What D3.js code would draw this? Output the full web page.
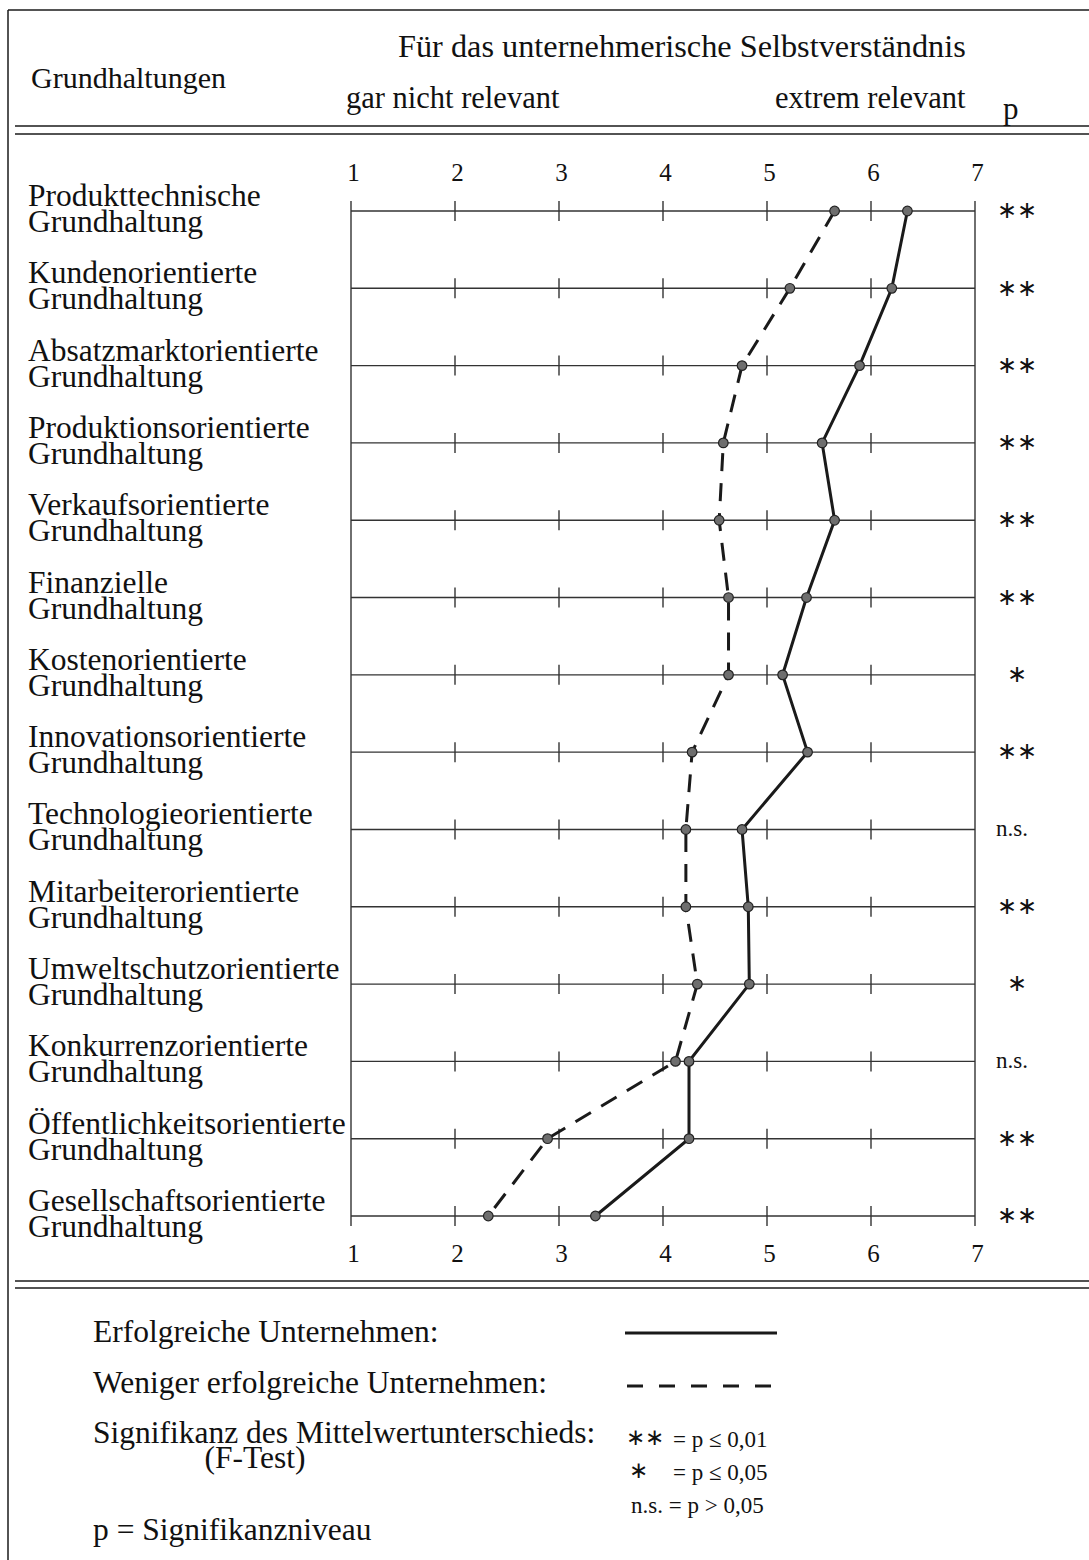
<!DOCTYPE html>
<html>
<head>
<meta charset="utf-8">
<script src="https://cdn.jsdelivr.net/npm/d3@7"></script>
<style>
  html, body { margin: 0; padding: 0; background: #fff; }
  svg { display: block; }
  text { font-family: "Liberation Serif", "Times New Roman", serif; fill: #111; }
</style>
</head>
<body>
<svg id="chart" width="1089" height="1560"></svg>
<script>
// ---- data ----
const categories = [
  "Produkttechnische|Grundhaltung",
  "Kundenorientierte|Grundhaltung",
  "Absatzmarktorientierte|Grundhaltung",
  "Produktionsorientierte|Grundhaltung",
  "Verkaufsorientierte|Grundhaltung",
  "Finanzielle|Grundhaltung",
  "Kostenorientierte|Grundhaltung",
  "Innovationsorientierte|Grundhaltung",
  "Technologieorientierte|Grundhaltung",
  "Mitarbeiterorientierte|Grundhaltung",
  "Umweltschutzorientierte|Grundhaltung",
  "Konkurrenzorientierte|Grundhaltung",
  "Öffentlichkeitsorientierte|Grundhaltung",
  "Gesellschaftsorientierte|Grundhaltung"
];
const erfolgreiche = [6.35, 6.20, 5.89, 5.53, 5.65, 5.38, 5.15, 5.39, 4.76, 4.82, 4.83, 4.25, 4.25, 3.35];
const wenigerErfolgreiche = [5.65, 5.22, 4.76, 4.58, 4.54, 4.63, 4.63, 4.28, 4.22, 4.22, 4.33, 4.12, 2.89, 2.32];
const signifikanz = ["**", "**", "**", "**", "**", "**", "*", "**", "n.s.", "**", "*", "n.s.", "**", "**"];
const tickValues = [1, 2, 3, 4, 5, 6, 7];
const tickLabels = ["1", "2", "3", "4", "5", "6", "7"];

const headerTitle = "Für das unternehmerische Selbstverständnis";
const headerLeft = "Grundhaltungen";
const scaleLow = "gar nicht relevant";
const scaleHigh = "extrem relevant";
const pHeader = "p";
const legendSolid = "Erfolgreiche Unternehmen:";
const legendDashed = "Weniger erfolgreiche Unternehmen:";
const legendSig = "Signifikanz des Mittelwertunterschieds:";
const legendSigSub = "(F-Test)";
const legendSigLevels = [
  { sym: "∗∗", txt: "= p ≤ 0,01" },
  { sym: "∗", txt: "= p ≤ 0,05" },
  { sym: "n.s.", txt: "= p > 0,05" }
];
const legendP = "p = Signifikanzniveau";

// ---- layout ----
const svg = d3.select("#chart");
const x = d3.scaleLinear().domain([1, 7]).range([351, 975]);
const y = d3.scalePoint().domain(categories).range([211, 1216]);
const ink = "#1a1a1a";

// frame
svg.append("line").attr("x1", 8).attr("x2", 1089).attr("y1", 10).attr("y2", 10)
  .attr("stroke", ink).attr("stroke-width", 1.5);
svg.append("line").attr("x1", 8).attr("x2", 8).attr("y1", 10).attr("y2", 1560)
  .attr("stroke", ink).attr("stroke-width", 1.5);
[126, 134, 1281, 1288].forEach(yy => {
  svg.append("line").attr("x1", 15).attr("x2", 1089).attr("y1", yy).attr("y2", yy)
    .attr("stroke", ink).attr("stroke-width", 1.5);
});

// headers
svg.append("text").attr("x", 398).attr("y", 57).attr("font-size", 32.3).text(headerTitle);
svg.append("text").attr("x", 31).attr("y", 88).attr("font-size", 30).text(headerLeft);
svg.append("text").attr("x", 346).attr("y", 108).attr("font-size", 30.5).text(scaleLow);
svg.append("text").attr("x", 775).attr("y", 108).attr("font-size", 30.5).text(scaleHigh);
svg.append("text").attr("x", 1003).attr("y", 119).attr("font-size", 31).text(pHeader);

// axis tick labels top and bottom
const axTop = d3.axisTop(x).tickValues(tickValues).tickFormat((d, i) => tickLabels[i])
  .tickSize(0).tickPadding(0);
const gTop = svg.append("g").attr("transform", "translate(2,181)").call(axTop);
const axBot = d3.axisBottom(x).tickValues(tickValues).tickFormat((d, i) => tickLabels[i])
  .tickSize(0).tickPadding(0);
const gBot = svg.append("g").attr("transform", "translate(2,1244)").call(axBot);
[gTop, gBot].forEach(g => {
  g.select(".domain").remove();
  g.selectAll("text").attr("font-size", 25).attr("font-family", "Liberation Serif, serif").attr("fill", ink);
});

// row lines with ticks
const rows = svg.append("g");
categories.forEach(c => {
  rows.append("line").attr("x1", x(1)).attr("x2", x(7)).attr("y1", y(c)).attr("y2", y(c))
    .attr("stroke", "#333").attr("stroke-width", 1.4);
  tickValues.slice(1, 6).forEach(t => {
    rows.append("line").attr("x1", x(t)).attr("x2", x(t)).attr("y1", y(c) - 10).attr("y2", y(c) + 10)
      .attr("stroke", "#333").attr("stroke-width", 1.4);
  });
});
// side verticals
[1, 7].forEach(t => {
  svg.append("line").attr("x1", x(t)).attr("x2", x(t))
    .attr("y1", y(categories[0]) - 10).attr("y2", y(categories[categories.length - 1]) + 10)
    .attr("stroke", "#333").attr("stroke-width", 1.4);
});

// category labels
categories.forEach(c => {
  const parts = c.split("|");
  svg.append("text").attr("x", 28).attr("y", y(c) - 5).attr("font-size", 31.5).text(parts[0]);
  svg.append("text").attr("x", 28).attr("y", y(c) + 21).attr("font-size", 31.5).text(parts[1]);
});

// lines
const line = d3.line().x(d => x(d.v)).y(d => y(d.c));
const dashedData = categories.map((c, i) => ({ c, v: wenigerErfolgreiche[i] }));
const solidData = categories.map((c, i) => ({ c, v: erfolgreiche[i] }));
svg.append("path").attr("d", line(dashedData)).attr("fill", "none").attr("stroke", ink)
  .attr("stroke-width", 3).attr("stroke-dasharray", "18,12");
svg.append("path").attr("d", line(solidData)).attr("fill", "none").attr("stroke", ink)
  .attr("stroke-width", 3);

// points
[dashedData, solidData].forEach(ds => {
  svg.append("g").selectAll("circle").data(ds).join("circle")
    .attr("cx", d => x(d.v)).attr("cy", d => y(d.c)).attr("r", 4.8)
    .attr("fill", "#6e6e6e").attr("stroke", "#222").attr("stroke-width", 1.2);
});

// significance column
categories.forEach((c, i) => {
  const s = signifikanz[i];
  if (s === "n.s.") {
    svg.append("text").attr("x", 1012).attr("y", y(c) + 7).attr("font-size", 23)
      .attr("text-anchor", "middle").text(s);
  } else {
    svg.append("text").attr("x", 1017).attr("y", y(c)).attr("dy", "0.3em")
      .attr("font-family", "DejaVu Sans, sans-serif").attr("font-size", 24)
      .attr("font-weight", 300)
      .attr("text-anchor", "middle").text(s.replace(/\*/g, "∗"));
  }
});

// legend
svg.append("text").attr("x", 93).attr("y", 1342).attr("font-size", 31.5).text(legendSolid);
svg.append("text").attr("x", 93).attr("y", 1393).attr("font-size", 31.5).text(legendDashed);
svg.append("text").attr("x", 93).attr("y", 1443).attr("font-size", 31.5).text(legendSig);
svg.append("text").attr("x", 255).attr("y", 1468).attr("font-size", 31.5).attr("text-anchor", "middle").text(legendSigSub);
svg.append("text").attr("x", 93).attr("y", 1540).attr("font-size", 31.5).text(legendP);

svg.append("line").attr("x1", 625).attr("x2", 777).attr("y1", 1333).attr("y2", 1333)
  .attr("stroke", ink).attr("stroke-width", 3);
svg.append("line").attr("x1", 627).attr("x2", 777).attr("y1", 1386).attr("y2", 1386)
  .attr("stroke", ink).attr("stroke-width", 3).attr("stroke-dasharray", "16,16");

const levelY = [1447, 1480, 1513];
legendSigLevels.forEach((l, i) => {
  if (l.sym === "n.s.") {
    svg.append("text").attr("x", 631).attr("y", levelY[i]).attr("font-size", 23).text(l.sym + " " + l.txt);
  } else {
    svg.append("text").attr("x", i === 0 ? 626 : 629).attr("y", levelY[i] - 9).attr("dy", "0.3em")
      .attr("font-family", "DejaVu Sans, sans-serif").attr("font-size", 23).text(l.sym);
    svg.append("text").attr("x", 673).attr("y", levelY[i]).attr("font-size", 23).text(l.txt);
  }
});
</script>
</body>
</html>
